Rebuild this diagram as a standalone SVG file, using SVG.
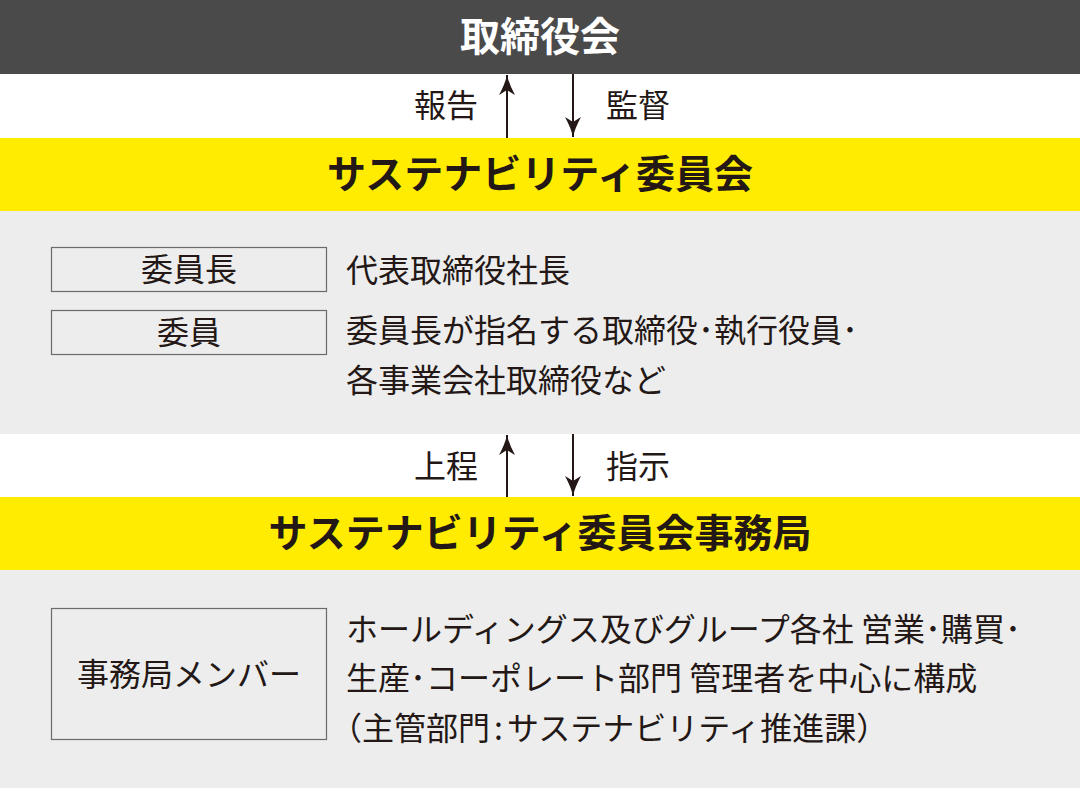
<svg xmlns="http://www.w3.org/2000/svg" width="1080" height="788" viewBox="0 0 1080 788">
<style>
.t{font-family:"Noto Sans CJK JP","Noto Sans CJK SC",sans-serif;fill:#231815;font-size:32px}
.h{font-family:"Noto Sans CJK JP","Noto Sans CJK SC",sans-serif;font-weight:700;font-size:39px;fill:#231815;text-anchor:middle}
.c{text-anchor:middle}
.box{fill:#ededed;stroke:#6b6b6b;stroke-width:1.2}
.ar{stroke:#231815;stroke-width:2;fill:none}
</style>
<defs>
<marker id="ah" markerUnits="userSpaceOnUse" viewBox="0 0 20 16" refX="20" refY="8" markerWidth="20" markerHeight="16" orient="auto">
<path d="M0,0 Q11,6 20,8 Q11,10 0,16 L5,8 Z" fill="#231815"/>
</marker>
</defs>
<rect width="1080" height="788" fill="#ffffff"/>
<g id="board">
<rect x="0" y="0" width="1080" height="74" fill="#4a4a4a"/>
<text class="h" x="540" y="51" style="fill:#ffffff;font-size:40px">取締役会</text>
</g>
<g id="committee">
<rect x="0" y="138" width="1080" height="73" fill="#ffec00"/>
<text class="h" x="540" y="188">サステナビリティ委員会</text>
<rect x="0" y="211" width="1080" height="223" fill="#ededed"/>
</g>
<g id="chair">
<rect class="box" x="51.5" y="247.5" width="275" height="44"/>
<text class="t c" x="189" y="281">委員長</text>
<text class="t" x="346" y="282">代表取締役社長</text>
</g>
<g id="members">
<rect class="box" x="51.5" y="310.5" width="275" height="44"/>
<text class="t c" x="189" y="344">委員</text>
<text class="t" x="346" y="342">委員長が指名する取締役･執行役員･</text>
<text class="t" x="346" y="392">各事業会社取締役など</text>
</g>
<g id="secretariat">
<rect x="0" y="497" width="1080" height="73" fill="#ffec00"/>
<text class="h" x="540" y="547">サステナビリティ委員会事務局</text>
<rect x="0" y="570" width="1080" height="218" fill="#ededed"/>
</g>
<g id="secretariat-members">
<rect class="box" x="51.5" y="608.5" width="275" height="131"/>
<text class="t c" x="189" y="686">事務局メンバー</text>
<text class="t" x="346" y="641">ホールディングス及びグループ各社 営業･購買･</text>
<text class="t" x="346" y="690">生産･コーポレート部門 管理者を中心に構成</text>
<text class="t" x="330" y="740">（主管部門<tspan dx="4">:</tspan><tspan dx="4">サステナビリティ推進課）</tspan></text>
</g>
<g id="connectors">
<line class="ar" x1="507" y1="138" x2="507" y2="75" marker-end="url(#ah)"/>
<line class="ar" x1="573" y1="74" x2="573" y2="137" marker-end="url(#ah)"/>
<line class="ar" x1="507" y1="497" x2="507" y2="435" marker-end="url(#ah)"/>
<line class="ar" x1="573" y1="434" x2="573" y2="496" marker-end="url(#ah)"/>
<text class="t" x="414" y="117">報告</text>
<text class="t" x="606" y="117">監督</text>
<text class="t" x="414" y="478">上程</text>
<text class="t" x="606" y="478">指示</text>
</g>
</svg>
